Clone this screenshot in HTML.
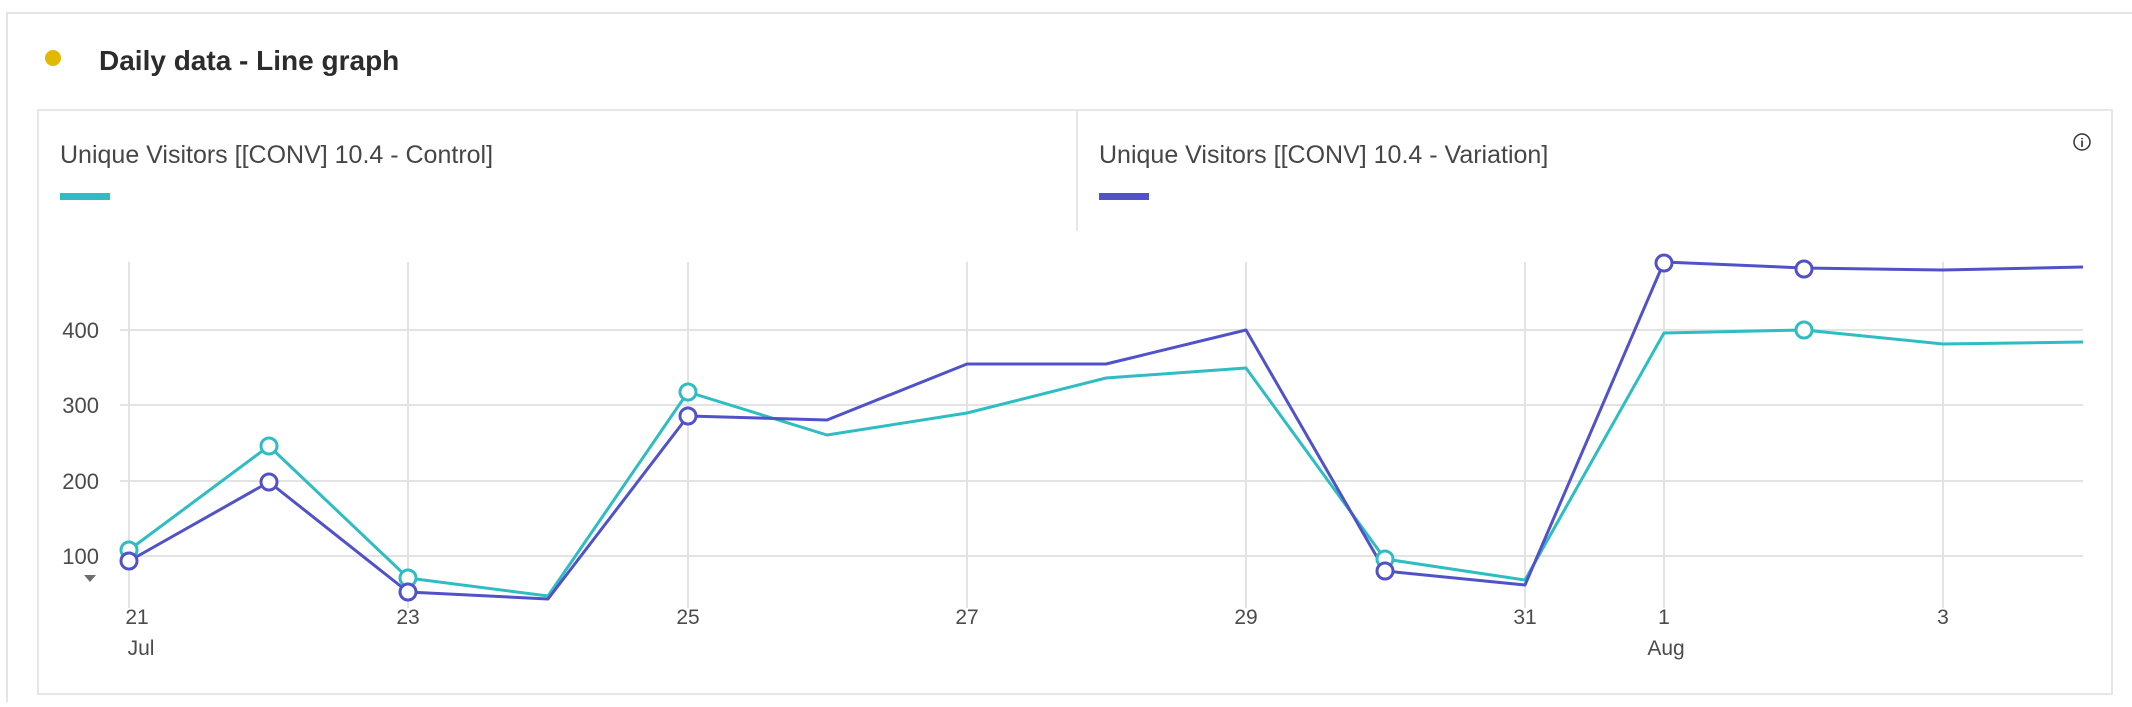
<!DOCTYPE html>
<html><head><meta charset="utf-8"><style>
html,body{margin:0;padding:0;background:#fff;}
body{width:2132px;height:702px;overflow:hidden;font-family:"Liberation Sans",sans-serif;}
</style></head><body>
<svg width="2132" height="702" xmlns="http://www.w3.org/2000/svg" font-family="Liberation Sans, sans-serif">
<rect x="7" y="13" width="2140" height="700" fill="#fff" stroke="#e4e4e4" stroke-width="2"/>
<circle cx="53" cy="58" r="8" fill="#e2b900"/>
<text x="99" y="70" font-size="28" font-weight="bold" fill="#2c2c2c">Daily data - Line graph</text>
<rect x="38" y="110" width="2074" height="584" fill="#fff" stroke="#e6e6e6" stroke-width="2"/>
<line x1="1077" y1="110" x2="1077" y2="231" stroke="#e6e6e6" stroke-width="2"/>
<text x="60" y="163" font-size="25" fill="#464646">Unique Visitors [[CONV] 10.4 - Control]</text>
<rect x="60" y="193" width="50" height="7" fill="#2dbdc2"/>
<text x="1099" y="163" font-size="25" fill="#464646">Unique Visitors [[CONV] 10.4 - Variation]</text>
<rect x="1099" y="193" width="50" height="7" fill="#5151c9"/>
<circle cx="2082" cy="142" r="8" fill="none" stroke="#333" stroke-width="1.5"/>
<text x="2082" y="147" font-size="12" text-anchor="middle" fill="#333" font-weight="bold">i</text>
<g stroke="#e3e3e3" stroke-width="2">
<line x1="120" y1="330" x2="2083" y2="330"/><line x1="120" y1="405" x2="2083" y2="405"/>
<line x1="120" y1="481" x2="2083" y2="481"/><line x1="120" y1="556" x2="2083" y2="556"/>
<line x1="129" y1="262" x2="129" y2="608"/><line x1="408" y1="262" x2="408" y2="608"/>
<line x1="688" y1="262" x2="688" y2="608"/><line x1="967" y1="262" x2="967" y2="608"/>
<line x1="1246" y1="262" x2="1246" y2="608"/><line x1="1525" y1="262" x2="1525" y2="608"/>
<line x1="1664" y1="262" x2="1664" y2="608"/><line x1="1943" y1="262" x2="1943" y2="608"/>
</g>
<g font-size="22" fill="#4b4b4b" text-anchor="end">
<text x="99" y="338">400</text><text x="99" y="413">300</text><text x="99" y="489">200</text><text x="99" y="564">100</text>
</g>
<polygon points="84,575 96,575 90,582" fill="#6e6e6e"/>
<g font-size="21" fill="#4b4b4b" text-anchor="middle">
<text x="137" y="624">21</text><text x="408" y="624">23</text><text x="688" y="624">25</text><text x="967" y="624">27</text><text x="1246" y="624">29</text><text x="1525" y="624">31</text><text x="1664" y="624">1</text><text x="1943" y="624">3</text>
<text x="141" y="655">Jul</text><text x="1666" y="655">Aug</text>
</g>
<polyline fill="none" stroke="#2dbdc2" stroke-width="3" stroke-linejoin="round" points="129,550 269,446 408,578 548,596 688,392 827,435 967,413 1106,378 1246,368 1385,559 1525,580 1664,333 1804,330 1943,344 2083,342"/>
<polyline fill="none" stroke="#5151c9" stroke-width="3" stroke-linejoin="round" points="129,561 269,482 408,592 548,599 688,416 827,420 967,364 1106,364 1246,330 1385,571 1525,585 1664,262 1804,268 1943,270 2083,267"/>
<g fill="#fff" stroke="#2dbdc2" stroke-width="3">
<circle cx="129" cy="550" r="8"/><circle cx="269" cy="446" r="8"/><circle cx="408" cy="578" r="8"/><circle cx="688" cy="392" r="8"/><circle cx="1385" cy="559" r="8"/><circle cx="1804" cy="330" r="8"/>
</g>
<g fill="#fff" stroke="#5151c9" stroke-width="3">
<circle cx="129" cy="561" r="8"/><circle cx="269" cy="482" r="8"/><circle cx="408" cy="592" r="8"/><circle cx="688" cy="416" r="8"/><circle cx="1385" cy="571" r="8"/><circle cx="1664" cy="263" r="8"/><circle cx="1804" cy="269" r="8"/>
</g>
</svg>
</body></html>
